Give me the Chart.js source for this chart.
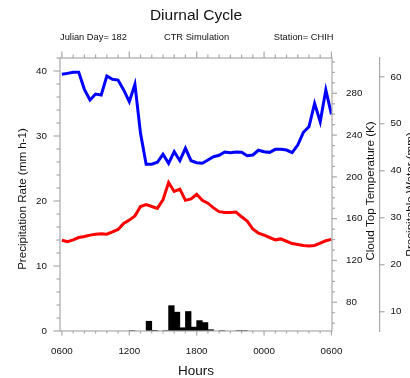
<!DOCTYPE html>
<html>
<head>
<meta charset="utf-8">
<script src="https://cdn.jsdelivr.net/npm/chart.js@4"></script>
<style>
  html, body { margin: 0; padding: 0; background: #fff; }
</style>
</head>
<body>
<canvas id="myChart" width="410" height="378"></canvas>
<script>
// hours after 0600 local, half-hourly output
const hours = [0, 0.5, 1, 1.5, 2, 2.5, 3, 3.5, 4, 4.5, 5, 5.5, 6, 6.5, 7, 7.5, 8, 8.5, 9, 9.5,
  10, 10.5, 11, 11.5, 12, 12.5, 13, 13.5, 14, 14.5, 15, 15.5, 16, 16.5, 17, 17.5, 18, 18.5, 19, 19.5,
  20, 20.5, 21, 21.5, 22, 22.5, 23, 23.5, 24];

// cloud top temperature (K) - blue
const cloudTop = [298.2, 299.1, 300.1, 300.1, 283.8, 273.6, 279.3, 278.4, 296.6, 293.4,
  292.7, 283.2, 272.0, 288.6, 241.7, 212.1, 212.2, 214.0, 221.6, 213.0,
  224.1, 215.5, 227.4, 215.5, 213.6, 213.0, 216.2, 219.3, 220.7, 223.8,
  223.2, 223.8, 223.6, 220.3, 221.0, 225.5, 224.1, 223.5, 226.4, 226.4,
  225.7, 223.2, 230.5, 242.7, 248.0, 270.4, 252.8, 283.2, 259.9];

// precipitable water (mm) - red
const precipWater = [25.2, 24.9, 25.3, 25.8, 26.0, 26.3, 26.5, 26.6, 26.5, 27.0,
  27.5, 28.8, 29.5, 30.4, 32.4, 32.8, 32.4, 32.0, 33.8, 37.5,
  35.6, 36.1, 33.7, 34.0, 35.0, 33.7, 33.1, 32.1, 31.3, 31.1,
  31.1, 31.2, 30.2, 29.3, 27.6, 26.7, 26.3, 25.8, 25.3, 25.5,
  25.0, 24.5, 24.3, 24.1, 24.0, 24.1, 24.6, 25.1, 25.4];

// precipitation rate (mm h-1), half hour bins (centre of bin), only non zero ones
const barHours = [6.25, 7.75, 8.25, 9.25, 9.75, 10.25, 10.75, 11.25, 11.75, 12.25, 12.75, 13.25, 14.25, 15.75, 16.25];
const barRates = [0.05, 1.5, 0.1, 0.05, 3.9, 2.9, 0.5, 3.0, 0.6, 1.6, 1.3, 0.2, 0.05, 0.05, 0.05];

// ticks
const hourTicks = [0, 6, 12, 18, 24];
const hourLabels = ['0600', '1200', '1800', '0000', '0600'];
const hourMinor = [1, 2, 3, 4, 5, 7, 8, 9, 10, 11, 13, 14, 15, 16, 17, 19, 20, 21, 22, 23];
const rateTicks = [0, 10, 20, 30, 40];
const rateMinor = [2, 4, 6, 8, 12, 14, 16, 18, 22, 24, 26, 28, 32, 34, 36, 38, 42];
const tempTicks = [80, 120, 160, 200, 240, 280];
const tempMinor = [60, 70, 90, 100, 110, 130, 140, 150, 170, 180, 190, 210, 220, 230, 250, 260, 270, 290, 300, 310];
const pwTicks = [10, 20, 30, 40, 50, 60];

const fontFam = "'Liberation Sans', Arial, sans-serif";
const frameColor = '#a8a8a8';
const textColor = '#111';
const tickFont = { family: fontFam, size: 9.8 };

function setTicks(list) {
  return function (scale) {
    scale.ticks = list.map(v => ({ value: v }));
  };
}

// frame, tick marks, titles (right titles read bottom to top like NCL)
const decorations = {
  id: 'decorations',
  afterDraw(chart) {
    const { ctx, chartArea: a, scales } = chart;
    ctx.save();
    ctx.strokeStyle = frameColor;
    ctx.lineWidth = 1.2;
    ctx.strokeRect(a.left, a.top, a.right - a.left, a.bottom - a.top);

    function hTicks(vals, len) {
      vals.forEach(v => {
        const px = scales.x.getPixelForValue(v);
        ctx.beginPath();
        ctx.moveTo(px, a.bottom); ctx.lineTo(px, a.bottom + len.b);
        ctx.moveTo(px, a.top); ctx.lineTo(px, a.top - len.t);
        ctx.stroke();
      });
    }
    function vTicks(scale, vals, x0, len) {
      vals.forEach(v => {
        const py = scale.getPixelForValue(v);
        ctx.beginPath();
        ctx.moveTo(x0, py); ctx.lineTo(x0 + len, py);
        ctx.stroke();
      });
    }
    hTicks(hourTicks, { b: 4.5, t: 6.5 });
    hTicks(hourMinor, { b: 2.5, t: 3.5 });
    vTicks(scales.y, rateTicks, a.left, -6.5);
    vTicks(scales.y, rateMinor, a.left, -3.5);
    vTicks(scales.yT, tempTicks, a.right, 5);
    vTicks(scales.yT, tempMinor, a.right, 3);
    vTicks(scales.yW, pwTicks, scales.yW.left, 4.5);

    ctx.fillStyle = textColor;
    ctx.textBaseline = 'alphabetic';
    // header
    ctx.textAlign = 'center';
    ctx.font = '15.5px ' + fontFam;
    ctx.fillText('Diurnal Cycle', 196, 20);
    ctx.font = '9.3px ' + fontFam;
    ctx.fillText('CTR Simulation', 196.5, 39.7);
    ctx.textAlign = 'left';
    ctx.fillText('Julian Day= 182', 60, 39.7);
    ctx.textAlign = 'right';
    ctx.fillText('Station= CHIH', 333.5, 39.7);

    // axis titles
    ctx.textAlign = 'center';
    ctx.font = '13.5px ' + fontFam;
    ctx.fillText('Hours', 196, 375);
    ctx.font = '11.6px ' + fontFam;
    function upText(txt, x, y) {
      ctx.save();
      ctx.translate(x, y);
      ctx.rotate(-Math.PI / 2);
      ctx.fillText(txt, 0, 0);
      ctx.restore();
    }
    upText('Precipitation Rate (mm h-1)', 25.5, 199);
    upText('Cloud Top Temperature (K)', 373.5, 191);
    upText('Precipitable Water (mm)', 413.5, 194.5);
    ctx.restore();
  }
};

const ctx = document.getElementById('myChart').getContext('2d');
const myChart = new Chart(ctx, {
  type: 'line',
  data: {
    datasets: [
      {
        type: 'bar',
        label: 'Precipitation Rate',
        data: barHours.map((h, i) => ({ x: h, y: barRates[i] })),
        backgroundColor: '#000',
        barPercentage: 1,
        categoryPercentage: 1,
        yAxisID: 'y'
      },
      {
        label: 'Cloud Top Temperature',
        data: hours.map((h, i) => ({ x: h, y: cloudTop[i] })),
        borderColor: '#0000ff',
        borderWidth: 3,
        pointRadius: 0,
        tension: 0,
        yAxisID: 'yT'
      },
      {
        label: 'Precipitable Water',
        data: hours.map((h, i) => ({ x: h, y: precipWater[i] })),
        borderColor: '#ff0000',
        borderWidth: 3,
        pointRadius: 0,
        tension: 0,
        yAxisID: 'yW'
      }
    ]
  },
  options: {
    responsive: false,
    animation: false,
    layout: { padding: { top: 58, left: 0, right: 0, bottom: 0 } },
    plugins: { legend: { display: false }, tooltip: { enabled: false } },
    scales: {
      x: {
        type: 'linear',
        position: 'bottom',
        offset: false,
        min: -0.17,
        max: 24.05,
        afterBuildTicks: setTicks(hourTicks),
        afterFit: s => { s.height = 47; },
        ticks: {
          callback: (v, i) => hourLabels[i],
          font: tickFont, color: textColor, padding: 14,
          maxRotation: 0, autoSkip: false
        },
        grid: { display: false, drawTicks: false },
        border: { display: false }
      },
      y: {
        position: 'left',
        min: 0,
        max: 42,
        afterBuildTicks: setTicks(rateTicks),
        afterFit: s => { s.width = 60; },
        ticks: { font: tickFont, color: textColor, padding: 13 },
        grid: { display: false, drawTicks: false },
        border: { display: false }
      },
      yT: {
        position: 'right',
        weight: 0,
        min: 52.5,
        max: 313.8,
        afterBuildTicks: setTicks(tempTicks),
        afterFit: s => { s.width = 48; },
        ticks: { font: tickFont, color: textColor, padding: 14 },
        grid: { display: false, drawTicks: false },
        border: { display: false }
      },
      yW: {
        position: 'right',
        weight: 1,
        min: 5.9,
        max: 64,
        afterBuildTicks: setTicks(pwTicks),
        afterFit: s => { s.width = 30; },
        ticks: { font: tickFont, color: textColor, padding: 10.5 },
        grid: { display: false, drawTicks: false },
        border: { display: true, color: frameColor, width: 1.2 }
      }
    }
  },
  plugins: [decorations]
});
</script>
</body>
</html>
